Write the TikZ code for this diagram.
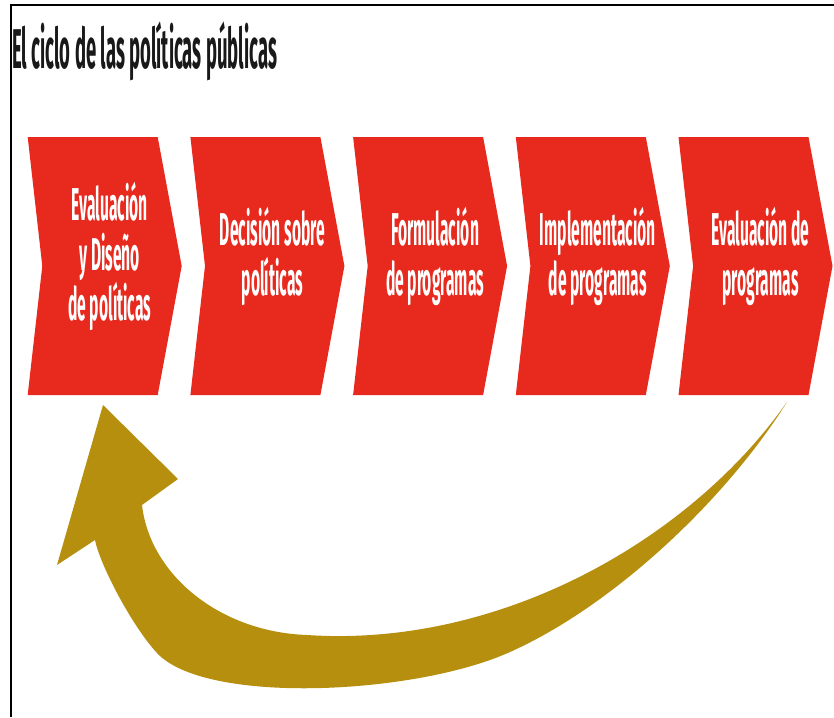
\documentclass[tikz,border=0pt]{standalone}
\usepackage{fontspec}
\usepackage{xcolor}
\usepackage{tikz}
\usetikzlibrary{positioning}
\usetikzlibrary{calc}
\newfontfamily\condfont[FakeStretch=0.34]{Fira Sans}
\newfontfamily\headfont[FakeStretch=0.33]{Fira Sans}
\definecolor{chevred}{RGB}{232,41,29}
\definecolor{arrowgold}{RGB}{182,143,14}
\definecolor{titlegray}{RGB}{25,25,25}
\tikzstyle{chevron} = [fill=chevred]
\tikzstyle{stage} = [text=white, align=center, inner sep=0pt, font=\condfont\bfseries\fontsize{46}{50}\selectfont]
\tikzstyle{heading} = [anchor=base west, inner sep=0pt, text=titlegray, font=\headfont\bfseries\fontsize{56}{60}\selectfont]
\tikzstyle{frame} = [line width=2pt, black]
\newcommand{\chevshape}[1]{\fill[chevron] (#1,137) -- ++(130,0) -- ++(24,129) -- ++(-24,129) -- ++(-130,0) -- ++(14.6,-129) -- cycle;}

\begin{document}
\begin{tikzpicture}[x=1pt,y=-1pt]
		\useasboundingbox (0,0) rectangle (834,717);
		\draw [frame] (11,717) -- (11,5) -- (834,5);
		\node (title) [heading] at (12,68) {El ciclo de las políticas públicas};
		\chevshape{27.7}
		\chevshape{190.4}
		\chevshape{353.1}
		\chevshape{515.8}
		\chevshape{678.5}
		\node (eval) [stage] at (109.7,256) {Evaluación\\y Diseño\\de políticas};
		\node (decision) [stage] at (272.4,256) {Decisión sobre\\políticas};
		\node (formul) [stage] at (435.1,256) {Formulación\\de programas};
		\node (implem) [stage] at (597.8,256) {Implementación\\de programas};
		\node (evalprog) [stage] at (760.5,256) {Evaluación de\\programas};
		\coordinate (tail) at (787,402);
		\coordinate (tip) at (103,405);
		\fill [arrowgold] (tail) .. controls (727,498) and (615,605) .. (510,652)
			.. controls (415,695) and (205,705) .. (157,653)
			.. controls (132,626) and (100,565) .. (95,540)
			-- (57,565) -- (tip) -- (178,479) -- (142,505)
			.. controls (150,575) and (220,632) .. (307,635)
			.. controls (500,648) and (690,540) .. (tail) -- cycle;
	\end{tikzpicture}
\end{document}
